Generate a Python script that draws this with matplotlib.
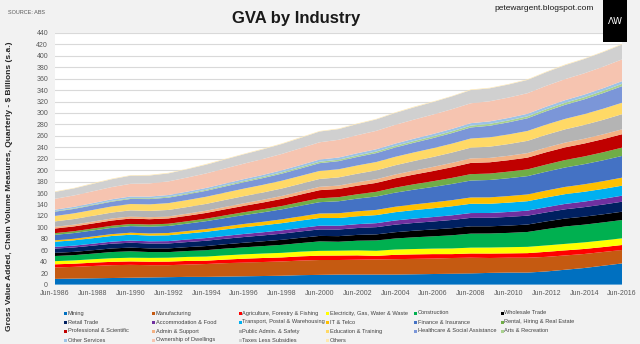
import matplotlib
matplotlib.use("Agg")
import matplotlib.pyplot as plt
from matplotlib.patches import Rectangle

# June of each year, 1986-2016
years = list(range(1986, 2017))
tick_years = list(range(1986, 2017, 2))
tick_labels = [f"Jun-{y}" for y in tick_years]

industries = [
    "Mining", "Manufacturing", "Agriculture, Forestry & Fishing",
    "Electricity, Gas, Water & Waste", "Construction", "Wholesale Trade",
    "Retail Trade", "Accommodation & Food", "Transport, Postal & Warehousing",
    "IT & Telco", "Finance & Insurance", "Rental, Hiring & Real Estate",
    "Professional & Scientific", "Admin & Support", "Public Admin. & Safety",
    "Education & Training", "Healthcare & Social Assistance", "Arts & Recreation",
    "Other Services", "Ownership of Dwellings", "Taxes Less Subsidies", "Others",
]

# Gross value added, $ billions per quarter (chain volume, s.a.)
mining = [10, 10.5, 11, 11.5, 12, 12.5, 13, 13.5, 13.5, 14, 14.5, 15, 15.5, 16.5, 17, 17.5,
          17.5, 17.5, 17.5, 18, 18.5, 19, 19.5, 20.5, 21, 21, 23, 26, 29, 33, 37]
manufacturing = [20, 20.5, 21.5, 22.5, 22.5, 21.5, 21, 21.5, 22.5, 23.5, 24, 24.5, 25, 25.5, 26, 25.5,
                 26, 26.5, 27, 27, 27, 27.5, 27.5, 26, 26, 26, 25.5, 25, 24.5, 24, 23.5]
agriculture = [5.5, 5.5, 5.8, 5.8, 6, 6, 6.2, 6.4, 5.8, 6.2, 6.8, 7, 7, 7.4, 7.6, 7.8,
               7.6, 6.2, 7.6, 7.8, 7.8, 6.8, 7.4, 7.8, 7.6, 8, 8.8, 8.8, 8.8, 8.6, 8.7]
electricity = [5.5, 5.8, 6, 6.3, 6.5, 6.7, 6.8, 7, 7.2, 7.4, 7.6, 7.8, 8, 8.2, 8.4, 8.6,
               8.8, 9, 9.2, 9.4, 9.6, 9.9, 10.2, 10.5, 10.8, 11, 11.2, 11.4, 11.5, 11.6, 11.7]
construction = [9, 9.2, 9.8, 10.8, 11.2, 10.2, 9.8, 10.3, 11.2, 11.8, 12.3, 13, 14, 15, 16.5, 15.5,
                16.8, 18, 19.3, 20.5, 21.5, 23, 24.5, 24.5, 25, 26, 28.5, 30.5, 31, 31.5, 32]
wholesale = [5.5, 5.7, 6, 6.3, 6.5, 6.4, 6.5, 6.8, 7.2, 7.6, 8, 8.4, 8.8, 9.2, 9.6, 9.8,
             10.2, 10.6, 11, 11.5, 12, 12.4, 12.8, 12.6, 12.8, 13, 13.5, 13.8, 14, 14.2, 14.5]
retail = [7.5, 7.7, 8, 8.3, 8.5, 8.5, 8.6, 8.9, 9.3, 9.6, 10, 10.3, 10.7, 11.1, 11.4, 11.6,
          12, 12.6, 13.2, 13.6, 13.9, 14.4, 14.8, 14.9, 15.2, 15.5, 15.8, 16.2, 16.6, 17, 17.5]
accommodation = [3, 3.2, 3.4, 3.6, 3.8, 3.9, 4.1, 4.4, 4.7, 5, 5.3, 5.5, 5.8, 6.1, 6.5, 6.6,
                 6.8, 7, 7.3, 7.6, 7.8, 8.1, 8.4, 8.4, 8.6, 8.8, 9.1, 9.4, 9.7, 10.1, 10.5]
transport = [9, 9.3, 9.6, 9.9, 10.2, 10, 10.2, 10.5, 11, 11.4, 11.8, 12.1, 12.6, 13, 13.4, 13.5,
             13.7, 14.1, 14.5, 14.9, 15.3, 15.8, 16.2, 16.1, 16.3, 16.5, 16.9, 17.1, 17.2, 17.3, 17.5]
it_telco = [2.5, 2.7, 3, 3.2, 3.5, 3.7, 4, 4.3, 4.7, 5.2, 5.7, 6.2, 6.7, 7.3, 7.9, 8.3,
            8.7, 9.1, 9.5, 9.9, 10.3, 10.7, 11, 11.2, 11.5, 11.8, 12.2, 12.6, 13, 13.5, 14]
finance = [9.5, 10, 10.5, 11, 11.5, 11.8, 12.3, 13, 13.8, 14.6, 15.5, 16.5, 17.5, 18.6, 19.8, 21,
           22.2, 23.4, 24.6, 25.8, 27, 28.3, 29.6, 30.4, 31.2, 32, 33, 34, 35.2, 36.5, 38]
rental = [3, 3.2, 3.4, 3.6, 3.8, 3.8, 3.9, 4.1, 4.4, 4.7, 5, 5.4, 5.8, 6.3, 6.8, 7.1,
          7.6, 8.2, 8.8, 9.4, 10, 10.6, 11.2, 11.2, 11.5, 11.8, 12.4, 13, 13.5, 14, 14.5]
professional = [8, 8.4, 8.8, 9.2, 9.5, 9.3, 9.3, 9.6, 10, 10.6, 11.2, 11.8, 12.5, 13.3, 14.2, 14.4,
                15, 15.6, 16.3, 17, 17.8, 18.7, 19.6, 19.7, 20, 20.6, 21.6, 22.2, 22.6, 23, 23.5]
admin = [3, 3.1, 3.3, 3.5, 3.6, 3.5, 3.5, 3.7, 3.9, 4.2, 4.5, 4.8, 5.1, 5.4, 5.8, 5.9,
         6.1, 6.4, 6.7, 7, 7.3, 7.6, 7.9, 7.7, 7.7, 7.9, 8.2, 8.3, 8.3, 8.4, 8.5]
public_admin = [9.5, 9.8, 10.1, 10.4, 10.7, 11, 11.3, 11.6, 11.9, 12.2, 12.5, 12.7, 13, 13.4, 13.8, 14.3,
                14.9, 15.5, 16.1, 16.7, 17.3, 18, 18.8, 19.6, 20.5, 21.4, 22.3, 23.2, 24.2, 25.3, 26.5]
education = [9.5, 9.9, 10.3, 10.7, 11.1, 11.5, 11.9, 12.2, 12.5, 12.8, 13.1, 13.4, 13.6, 13.8, 14, 14.2,
             14.4, 14.6, 14.8, 15, 15.3, 15.6, 16, 16.4, 16.8, 17.3, 17.8, 18.3, 18.8, 19.4, 20]
healthcare = [7.5, 7.8, 8.1, 8.4, 8.8, 9.2, 9.6, 10, 10.4, 10.8, 11.3, 11.8, 12.4, 13, 13.6, 14.2,
              14.9, 15.6, 16.3, 17, 17.7, 18.5, 19.3, 20.2, 21.2, 22.2, 23.4, 24.6, 25.9, 27.4, 29]
arts = [1, 1.1, 1.2, 1.3, 1.4, 1.5, 1.6, 1.7, 1.8, 1.9, 2, 2.1, 2.2, 2.3, 2.5, 2.5,
        2.6, 2.7, 2.8, 2.9, 3, 3.1, 3.2, 3.3, 3.3, 3.4, 3.5, 3.6, 3.7, 3.9, 4]
other_services = [2.5, 2.6, 2.7, 2.8, 2.9, 2.9, 3, 3.1, 3.2, 3.3, 3.4, 3.5, 3.6, 3.7, 3.8, 3.8,
                  3.9, 4, 4, 4.1, 4.2, 4.2, 4.3, 4.3, 4.4, 4.4, 4.5, 4.5, 4.6, 4.6, 4.7]
dwellings = [19, 19.8, 20.6, 21.4, 22.2, 23, 23.8, 24.6, 25.4, 26.2, 27, 27.8, 28.6, 29.4, 30.2, 31,
             31.6, 32.2, 32.8, 33.4, 34, 34.4, 34.8, 35.2, 35.6, 36, 36.4, 36.8, 37.2, 37.6, 38]
taxes = [12, 12.3, 13, 13.7, 14.2, 13.8, 14, 14.6, 15.2, 15.8, 16.4, 16.8, 17.4, 18, 18.8, 18.7,
         19.4, 20, 20.8, 21.4, 21.8, 22.4, 23, 22.6, 22.8, 23.2, 23.8, 24.4, 25, 25.5, 26]
others = [1, 0.8, 1.2, 1, 0.9, 1.1, 1, 0.8, 1.2, 1, 0.9, 1.1, 1, 1.2, 0.9, 1,
          1.1, 0.9, 1, 1.2, 1, 0.8, 1.1, 1, 0.9, 1.1, 1, 1.2, 0.9, 1, 1.1]

series = [mining, manufacturing, agriculture, electricity, construction, wholesale,
          retail, accommodation, transport, it_telco, finance, rental, professional,
          admin, public_admin, education, healthcare, arts, other_services, dwellings,
          taxes, others]

colors = ["#0070C0", "#C55A11", "#FF0000", "#FFFF00", "#00B050", "#000000",
          "#002060", "#7030A0", "#00B0F0", "#FFC000", "#4472C4", "#70AD47",
          "#C00000", "#F4B183", "#B4B4B4", "#FFD966", "#7B96D8", "#A9D18E",
          "#9DC3E6", "#F6C4B0", "#D0D0D0", "#FFE8B0"]

plt.rcParams["font.family"] = ["Liberation Sans", "DejaVu Sans"]

W, H = 640, 344
fig = plt.figure(figsize=(W / 100, H / 100), dpi=100, facecolor="#F2F2F2")
ax = fig.add_axes([55 / W, 1 - 284.6 / H, 567 / W, 251.7 / H])
ax.set_facecolor("white")

ax.stackplot(years, *series, colors=colors, linewidth=0)

ax.set_xlim(1986, 2016)
ax.set_ylim(0, 440)
ax.set_yticks(range(0, 441, 20))
ax.set_xticks(tick_years)
ax.set_xticklabels(tick_labels)
ax.grid(axis="y", color="#D9D9D9", linewidth=0.8)
ax.set_axisbelow(True)
for s in ax.spines.values():
    s.set_visible(False)
ax.tick_params(axis="y", length=0, labelsize=5, colors="#595959", pad=5)
ax.tick_params(axis="x", length=0, labelsize=5, colors="#595959", pad=4)

fig.text(296 / W, 1 - 18 / H, "GVA by Industry", ha="center", va="center",
         fontsize=12, fontweight="bold", color="#1A1A1A")
fig.text(8 / W, 1 - 12 / H, "SOURCE: ABS", ha="left", va="center",
         fontsize=4, color="#595959")
fig.text(594 / W, 1 - 9 / H, "petewargent.blogspot.com", ha="right", va="center",
         fontsize=6, color="#1A1A1A")
fig.patches.append(Rectangle((603 / W, 1 - 42 / H), 24 / W, 42 / H,
                             transform=fig.transFigure, facecolor="black",
                             edgecolor="none"))
fig.text(615 / W, 1 - 22 / H, "ΛW", ha="center", va="center", fontsize=6.5,
         color="white", family=["DejaVu Sans"])

fig.text(10 / W, 1 - 186 / H,
         "Gross Value Added, Chain Volume Measures, Quarterly - $ Billions (s.a.)",
         rotation=90, ha="center", va="center", fontsize=6, fontweight="bold",
         color="#262626")

# Legend laid out row by row in six columns
col_x = [65, 153, 240, 327, 415, 502]
row_y = [313, 322, 331, 340]
for i, (name, c) in enumerate(zip(industries, colors)):
    r, k = divmod(i, 6)
    x, y = col_x[k], row_y[r]
    fig.patches.append(Rectangle(((x - 1.5) / W, 1 - (y + 1.5) / H), 3 / W, 3 / H,
                                 transform=fig.transFigure, facecolor=c,
                                 edgecolor="none"))
    fig.text((x + 2.5) / W, 1 - y / H, name, ha="left", va="center",
             fontsize=4.1, color="#404040")

fig.savefig("out.png", dpi=100, facecolor=fig.get_facecolor())
